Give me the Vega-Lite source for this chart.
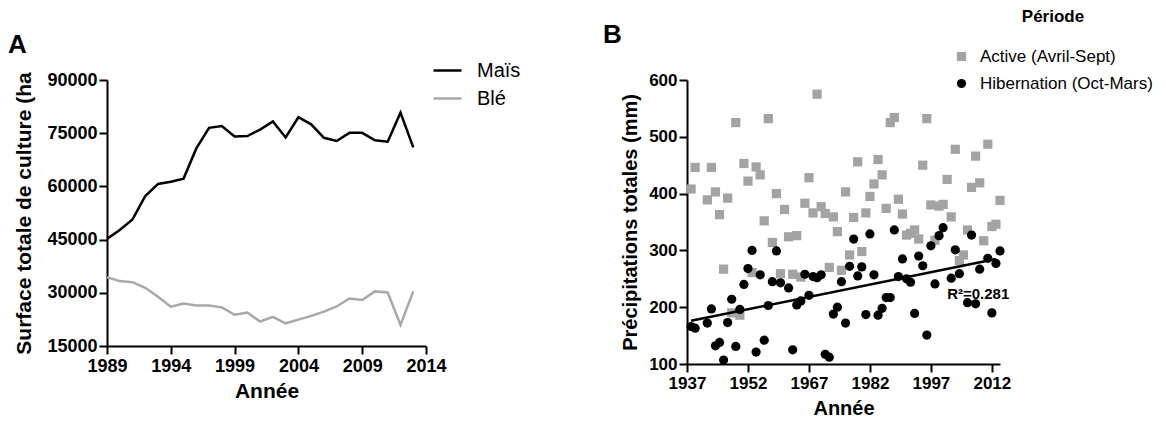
{
  "$schema": "https://vega.github.io/schema/vega-lite/v6.json",
  "autosize": {"type": "none"},
  "padding": {"left": 107, "top": 80, "right": 1059, "bottom": 341},
  "background": "white",
  "spacing": 261,
  "bounds": "flush",
  "resolve": {"scale": {"color": "independent", "shape": "independent"}, "legend": {"color": "independent", "shape": "independent"}},
  "config": {
    "font": "Liberation Sans",
    "view": {"stroke": null},
    "axis": {
      "domainColor": "black", "domainWidth": 2, "tickColor": "black", "tickWidth": 2, "tickSize": 8,
      "grid": false, "labelColor": "black", "labelFont": "Liberation Sans", "labelFontWeight": "bold",
      "titleFont": "Liberation Sans", "titleFontWeight": "bold", "titleColor": "black", "labelFlush": false,
      "labelOverlap": false
    },
    "legend": {"labelFont": "Liberation Sans", "titleFont": "Liberation Sans", "labelColor": "black", "titleColor": "black", "padding": 0, "labelLimit": 400},
    "title": {"font": "Liberation Sans", "color": "black", "fontWeight": "bold"}
  },
  "hconcat": [
    {
      "width": 319,
      "height": 266,
      "title": {"text": "A", "anchor": "start", "frame": "group", "fontSize": 26, "dx": -99, "offset": -3},
      "data": {"values": [
        {"Annee": 1989, "Culture": "Maïs", "Surface": 45200}, {"Annee": 1990, "Culture": "Maïs", "Surface": 47700},
        {"Annee": 1991, "Culture": "Maïs", "Surface": 50700}, {"Annee": 1992, "Culture": "Maïs", "Surface": 57300},
        {"Annee": 1993, "Culture": "Maïs", "Surface": 60700}, {"Annee": 1994, "Culture": "Maïs", "Surface": 61300},
        {"Annee": 1995, "Culture": "Maïs", "Surface": 62200}, {"Annee": 1996, "Culture": "Maïs", "Surface": 70700},
        {"Annee": 1997, "Culture": "Maïs", "Surface": 76500}, {"Annee": 1998, "Culture": "Maïs", "Surface": 77000},
        {"Annee": 1999, "Culture": "Maïs", "Surface": 74100}, {"Annee": 2000, "Culture": "Maïs", "Surface": 74200},
        {"Annee": 2001, "Culture": "Maïs", "Surface": 76000}, {"Annee": 2002, "Culture": "Maïs", "Surface": 78300},
        {"Annee": 2003, "Culture": "Maïs", "Surface": 73800}, {"Annee": 2004, "Culture": "Maïs", "Surface": 79500},
        {"Annee": 2005, "Culture": "Maïs", "Surface": 77500}, {"Annee": 2006, "Culture": "Maïs", "Surface": 73700},
        {"Annee": 2007, "Culture": "Maïs", "Surface": 72800}, {"Annee": 2008, "Culture": "Maïs", "Surface": 75100},
        {"Annee": 2009, "Culture": "Maïs", "Surface": 75100}, {"Annee": 2010, "Culture": "Maïs", "Surface": 73000},
        {"Annee": 2011, "Culture": "Maïs", "Surface": 72600}, {"Annee": 2012, "Culture": "Maïs", "Surface": 80800},
        {"Annee": 2013, "Culture": "Maïs", "Surface": 71000},
        {"Annee": 1989, "Culture": "Blé", "Surface": 34400}, {"Annee": 1990, "Culture": "Blé", "Surface": 33300},
        {"Annee": 1991, "Culture": "Blé", "Surface": 33000}, {"Annee": 1992, "Culture": "Blé", "Surface": 31400},
        {"Annee": 1993, "Culture": "Blé", "Surface": 28900}, {"Annee": 1994, "Culture": "Blé", "Surface": 26100},
        {"Annee": 1995, "Culture": "Blé", "Surface": 27000}, {"Annee": 1996, "Culture": "Blé", "Surface": 26400},
        {"Annee": 1997, "Culture": "Blé", "Surface": 26450}, {"Annee": 1998, "Culture": "Blé", "Surface": 25900},
        {"Annee": 1999, "Culture": "Blé", "Surface": 23800}, {"Annee": 2000, "Culture": "Blé", "Surface": 24450},
        {"Annee": 2001, "Culture": "Blé", "Surface": 21900}, {"Annee": 2002, "Culture": "Blé", "Surface": 23200},
        {"Annee": 2003, "Culture": "Blé", "Surface": 21400}, {"Annee": 2004, "Culture": "Blé", "Surface": 22450},
        {"Annee": 2005, "Culture": "Blé", "Surface": 23500}, {"Annee": 2006, "Culture": "Blé", "Surface": 24700},
        {"Annee": 2007, "Culture": "Blé", "Surface": 26150}, {"Annee": 2008, "Culture": "Blé", "Surface": 28400},
        {"Annee": 2009, "Culture": "Blé", "Surface": 27950}, {"Annee": 2010, "Culture": "Blé", "Surface": 30400},
        {"Annee": 2011, "Culture": "Blé", "Surface": 30100}, {"Annee": 2012, "Culture": "Blé", "Surface": 20950},
        {"Annee": 2013, "Culture": "Blé", "Surface": 30400}
      ]},
      "mark": {"type": "line", "strokeWidth": 2.5},
      "encoding": {
        "x": {"field": "Annee", "type": "quantitative",
          "scale": {"domain": [1989, 2014], "nice": false, "zero": false},
          "axis": {"values": [1989, 1994, 1999, 2004, 2009, 2014], "format": "d", "title": "Année",
            "labelFontSize": 18, "titleFontSize": 21, "labelPadding": 3, "titlePadding": 5}},
        "y": {"field": "Surface", "type": "quantitative",
          "scale": {"domain": [15000, 90000], "nice": false, "zero": false},
          "axis": {"values": [15000, 30000, 45000, 60000, 75000, 90000], "format": "d",
            "title": "Surface totale de culture (ha", "labelFontSize": 18, "titleFontSize": 21, "labelPadding": 2, "titlePadding": 12}},
        "color": {"field": "Culture", "type": "nominal",
          "scale": {"domain": ["Maïs", "Blé"], "range": ["#000000", "#a8a8a8"]},
          "legend": {"title": null, "orient": "none", "legendX": 325, "legendY": -25,
            "symbolType": "stroke", "symbolSize": 784, "symbolStrokeWidth": 2.5,
            "labelFontSize": 20, "labelOffset": 14, "rowPadding": 2}}
      }
    },
    {
      "width": 313,
      "height": 284,
      "title": {"text": "B", "anchor": "start", "frame": "group", "fontSize": 26, "dx": -84, "offset": -39},
      "layer": [
        {
          "data": {"values": [
            {"Annee": 1938, "Periode": "Active (Avril-Sept)", "Precip": 408}, {"Annee": 1939, "Periode": "Active (Avril-Sept)", "Precip": 446},
            {"Annee": 1942, "Periode": "Active (Avril-Sept)", "Precip": 389}, {"Annee": 1943, "Periode": "Active (Avril-Sept)", "Precip": 446},
            {"Annee": 1944, "Periode": "Active (Avril-Sept)", "Precip": 403}, {"Annee": 1945, "Periode": "Active (Avril-Sept)", "Precip": 363},
            {"Annee": 1946, "Periode": "Active (Avril-Sept)", "Precip": 267}, {"Annee": 1947, "Periode": "Active (Avril-Sept)", "Precip": 392},
            {"Annee": 1948, "Periode": "Active (Avril-Sept)", "Precip": 190}, {"Annee": 1949, "Periode": "Active (Avril-Sept)", "Precip": 525},
            {"Annee": 1950, "Periode": "Active (Avril-Sept)", "Precip": 186}, {"Annee": 1951, "Periode": "Active (Avril-Sept)", "Precip": 453},
            {"Annee": 1952, "Periode": "Active (Avril-Sept)", "Precip": 422}, {"Annee": 1953, "Periode": "Active (Avril-Sept)", "Precip": 261},
            {"Annee": 1954, "Periode": "Active (Avril-Sept)", "Precip": 447}, {"Annee": 1955, "Periode": "Active (Avril-Sept)", "Precip": 433},
            {"Annee": 1956, "Periode": "Active (Avril-Sept)", "Precip": 352}, {"Annee": 1957, "Periode": "Active (Avril-Sept)", "Precip": 532},
            {"Annee": 1958, "Periode": "Active (Avril-Sept)", "Precip": 314}, {"Annee": 1959, "Periode": "Active (Avril-Sept)", "Precip": 400},
            {"Annee": 1960, "Periode": "Active (Avril-Sept)", "Precip": 259}, {"Annee": 1961, "Periode": "Active (Avril-Sept)", "Precip": 372},
            {"Annee": 1962, "Periode": "Active (Avril-Sept)", "Precip": 324}, {"Annee": 1963, "Periode": "Active (Avril-Sept)", "Precip": 258},
            {"Annee": 1964, "Periode": "Active (Avril-Sept)", "Precip": 326}, {"Annee": 1965, "Periode": "Active (Avril-Sept)", "Precip": 253},
            {"Annee": 1966, "Periode": "Active (Avril-Sept)", "Precip": 383}, {"Annee": 1967, "Periode": "Active (Avril-Sept)", "Precip": 428},
            {"Annee": 1968, "Periode": "Active (Avril-Sept)", "Precip": 366}, {"Annee": 1969, "Periode": "Active (Avril-Sept)", "Precip": 575},
            {"Annee": 1970, "Periode": "Active (Avril-Sept)", "Precip": 377}, {"Annee": 1971, "Periode": "Active (Avril-Sept)", "Precip": 365},
            {"Annee": 1972, "Periode": "Active (Avril-Sept)", "Precip": 270}, {"Annee": 1973, "Periode": "Active (Avril-Sept)", "Precip": 359},
            {"Annee": 1974, "Periode": "Active (Avril-Sept)", "Precip": 333}, {"Annee": 1975, "Periode": "Active (Avril-Sept)", "Precip": 265},
            {"Annee": 1976, "Periode": "Active (Avril-Sept)", "Precip": 403}, {"Annee": 1977, "Periode": "Active (Avril-Sept)", "Precip": 292},
            {"Annee": 1978, "Periode": "Active (Avril-Sept)", "Precip": 358}, {"Annee": 1979, "Periode": "Active (Avril-Sept)", "Precip": 456},
            {"Annee": 1980, "Periode": "Active (Avril-Sept)", "Precip": 298}, {"Annee": 1981, "Periode": "Active (Avril-Sept)", "Precip": 366},
            {"Annee": 1982, "Periode": "Active (Avril-Sept)", "Precip": 395}, {"Annee": 1983, "Periode": "Active (Avril-Sept)", "Precip": 417},
            {"Annee": 1984, "Periode": "Active (Avril-Sept)", "Precip": 460}, {"Annee": 1985, "Periode": "Active (Avril-Sept)", "Precip": 433},
            {"Annee": 1986, "Periode": "Active (Avril-Sept)", "Precip": 374}, {"Annee": 1987, "Periode": "Active (Avril-Sept)", "Precip": 525},
            {"Annee": 1988, "Periode": "Active (Avril-Sept)", "Precip": 534}, {"Annee": 1989, "Periode": "Active (Avril-Sept)", "Precip": 390},
            {"Annee": 1990, "Periode": "Active (Avril-Sept)", "Precip": 364}, {"Annee": 1991, "Periode": "Active (Avril-Sept)", "Precip": 327},
            {"Annee": 1992, "Periode": "Active (Avril-Sept)", "Precip": 330}, {"Annee": 1993, "Periode": "Active (Avril-Sept)", "Precip": 336},
            {"Annee": 1994, "Periode": "Active (Avril-Sept)", "Precip": 320}, {"Annee": 1995, "Periode": "Active (Avril-Sept)", "Precip": 450},
            {"Annee": 1996, "Periode": "Active (Avril-Sept)", "Precip": 532}, {"Annee": 1997, "Periode": "Active (Avril-Sept)", "Precip": 380},
            {"Annee": 1998, "Periode": "Active (Avril-Sept)", "Precip": 318}, {"Annee": 1999, "Periode": "Active (Avril-Sept)", "Precip": 378},
            {"Annee": 2000, "Periode": "Active (Avril-Sept)", "Precip": 381}, {"Annee": 2001, "Periode": "Active (Avril-Sept)", "Precip": 425},
            {"Annee": 2002, "Periode": "Active (Avril-Sept)", "Precip": 359}, {"Annee": 2003, "Periode": "Active (Avril-Sept)", "Precip": 478},
            {"Annee": 2004, "Periode": "Active (Avril-Sept)", "Precip": 282}, {"Annee": 2005, "Periode": "Active (Avril-Sept)", "Precip": 292},
            {"Annee": 2006, "Periode": "Active (Avril-Sept)", "Precip": 336}, {"Annee": 2007, "Periode": "Active (Avril-Sept)", "Precip": 411},
            {"Annee": 2008, "Periode": "Active (Avril-Sept)", "Precip": 466}, {"Annee": 2009, "Periode": "Active (Avril-Sept)", "Precip": 419},
            {"Annee": 2010, "Periode": "Active (Avril-Sept)", "Precip": 317}, {"Annee": 2011, "Periode": "Active (Avril-Sept)", "Precip": 487},
            {"Annee": 2012, "Periode": "Active (Avril-Sept)", "Precip": 342}, {"Annee": 2013, "Periode": "Active (Avril-Sept)", "Precip": 346},
            {"Annee": 2014, "Periode": "Active (Avril-Sept)", "Precip": 388},
            {"Annee": 1938, "Periode": "Hibernation (Oct-Mars)", "Precip": 166}, {"Annee": 1939, "Periode": "Hibernation (Oct-Mars)", "Precip": 163},
            {"Annee": 1942, "Periode": "Hibernation (Oct-Mars)", "Precip": 172}, {"Annee": 1943, "Periode": "Hibernation (Oct-Mars)", "Precip": 197},
            {"Annee": 1944, "Periode": "Hibernation (Oct-Mars)", "Precip": 132}, {"Annee": 1945, "Periode": "Hibernation (Oct-Mars)", "Precip": 138},
            {"Annee": 1946, "Periode": "Hibernation (Oct-Mars)", "Precip": 107}, {"Annee": 1947, "Periode": "Hibernation (Oct-Mars)", "Precip": 173},
            {"Annee": 1948, "Periode": "Hibernation (Oct-Mars)", "Precip": 214}, {"Annee": 1949, "Periode": "Hibernation (Oct-Mars)", "Precip": 131},
            {"Annee": 1950, "Periode": "Hibernation (Oct-Mars)", "Precip": 196}, {"Annee": 1951, "Periode": "Hibernation (Oct-Mars)", "Precip": 240},
            {"Annee": 1952, "Periode": "Hibernation (Oct-Mars)", "Precip": 268}, {"Annee": 1953, "Periode": "Hibernation (Oct-Mars)", "Precip": 300},
            {"Annee": 1954, "Periode": "Hibernation (Oct-Mars)", "Precip": 121}, {"Annee": 1955, "Periode": "Hibernation (Oct-Mars)", "Precip": 257},
            {"Annee": 1956, "Periode": "Hibernation (Oct-Mars)", "Precip": 142}, {"Annee": 1957, "Periode": "Hibernation (Oct-Mars)", "Precip": 203},
            {"Annee": 1958, "Periode": "Hibernation (Oct-Mars)", "Precip": 245}, {"Annee": 1959, "Periode": "Hibernation (Oct-Mars)", "Precip": 299},
            {"Annee": 1960, "Periode": "Hibernation (Oct-Mars)", "Precip": 243}, {"Annee": 1962, "Periode": "Hibernation (Oct-Mars)", "Precip": 234},
            {"Annee": 1963, "Periode": "Hibernation (Oct-Mars)", "Precip": 125}, {"Annee": 1964, "Periode": "Hibernation (Oct-Mars)", "Precip": 204},
            {"Annee": 1965, "Periode": "Hibernation (Oct-Mars)", "Precip": 211}, {"Annee": 1966, "Periode": "Hibernation (Oct-Mars)", "Precip": 258},
            {"Annee": 1967, "Periode": "Hibernation (Oct-Mars)", "Precip": 221}, {"Annee": 1968, "Periode": "Hibernation (Oct-Mars)", "Precip": 254},
            {"Annee": 1969, "Periode": "Hibernation (Oct-Mars)", "Precip": 252}, {"Annee": 1970, "Periode": "Hibernation (Oct-Mars)", "Precip": 257},
            {"Annee": 1971, "Periode": "Hibernation (Oct-Mars)", "Precip": 117}, {"Annee": 1972, "Periode": "Hibernation (Oct-Mars)", "Precip": 112},
            {"Annee": 1973, "Periode": "Hibernation (Oct-Mars)", "Precip": 188}, {"Annee": 1974, "Periode": "Hibernation (Oct-Mars)", "Precip": 200},
            {"Annee": 1975, "Periode": "Hibernation (Oct-Mars)", "Precip": 245}, {"Annee": 1976, "Periode": "Hibernation (Oct-Mars)", "Precip": 172},
            {"Annee": 1977, "Periode": "Hibernation (Oct-Mars)", "Precip": 272}, {"Annee": 1978, "Periode": "Hibernation (Oct-Mars)", "Precip": 320},
            {"Annee": 1979, "Periode": "Hibernation (Oct-Mars)", "Precip": 255}, {"Annee": 1980, "Periode": "Hibernation (Oct-Mars)", "Precip": 271},
            {"Annee": 1981, "Periode": "Hibernation (Oct-Mars)", "Precip": 187}, {"Annee": 1982, "Periode": "Hibernation (Oct-Mars)", "Precip": 329},
            {"Annee": 1983, "Periode": "Hibernation (Oct-Mars)", "Precip": 257}, {"Annee": 1984, "Periode": "Hibernation (Oct-Mars)", "Precip": 186},
            {"Annee": 1985, "Periode": "Hibernation (Oct-Mars)", "Precip": 198}, {"Annee": 1986, "Periode": "Hibernation (Oct-Mars)", "Precip": 217},
            {"Annee": 1987, "Periode": "Hibernation (Oct-Mars)", "Precip": 217}, {"Annee": 1988, "Periode": "Hibernation (Oct-Mars)", "Precip": 336},
            {"Annee": 1989, "Periode": "Hibernation (Oct-Mars)", "Precip": 254}, {"Annee": 1990, "Periode": "Hibernation (Oct-Mars)", "Precip": 285},
            {"Annee": 1991, "Periode": "Hibernation (Oct-Mars)", "Precip": 250}, {"Annee": 1992, "Periode": "Hibernation (Oct-Mars)", "Precip": 244},
            {"Annee": 1993, "Periode": "Hibernation (Oct-Mars)", "Precip": 189}, {"Annee": 1994, "Periode": "Hibernation (Oct-Mars)", "Precip": 290},
            {"Annee": 1995, "Periode": "Hibernation (Oct-Mars)", "Precip": 273}, {"Annee": 1996, "Periode": "Hibernation (Oct-Mars)", "Precip": 151},
            {"Annee": 1997, "Periode": "Hibernation (Oct-Mars)", "Precip": 308}, {"Annee": 1998, "Periode": "Hibernation (Oct-Mars)", "Precip": 241},
            {"Annee": 1999, "Periode": "Hibernation (Oct-Mars)", "Precip": 326}, {"Annee": 2000, "Periode": "Hibernation (Oct-Mars)", "Precip": 340},
            {"Annee": 2002, "Periode": "Hibernation (Oct-Mars)", "Precip": 251}, {"Annee": 2003, "Periode": "Hibernation (Oct-Mars)", "Precip": 301},
            {"Annee": 2004, "Periode": "Hibernation (Oct-Mars)", "Precip": 259}, {"Annee": 2006, "Periode": "Hibernation (Oct-Mars)", "Precip": 208},
            {"Annee": 2007, "Periode": "Hibernation (Oct-Mars)", "Precip": 327}, {"Annee": 2008, "Periode": "Hibernation (Oct-Mars)", "Precip": 206},
            {"Annee": 2009, "Periode": "Hibernation (Oct-Mars)", "Precip": 267}, {"Annee": 2011, "Periode": "Hibernation (Oct-Mars)", "Precip": 286},
            {"Annee": 2012, "Periode": "Hibernation (Oct-Mars)", "Precip": 190}, {"Annee": 2013, "Periode": "Hibernation (Oct-Mars)", "Precip": 277},
            {"Annee": 2014, "Periode": "Hibernation (Oct-Mars)", "Precip": 299}
          ]},
          "mark": {"type": "point", "filled": true, "size": 85, "opacity": 1},
          "encoding": {
            "x": {"field": "Annee", "type": "quantitative",
              "scale": {"domain": [1937, 2014], "nice": false, "zero": false},
              "axis": {"values": [1937, 1952, 1967, 1982, 1997, 2012], "format": "d", "title": "Année",
                "labelFontSize": 17, "titleFontSize": 20, "labelPadding": 3, "titlePadding": 7}},
            "y": {"field": "Precip", "type": "quantitative",
              "scale": {"domain": [100, 600], "nice": false, "zero": false},
              "axis": {"values": [100, 200, 300, 400, 500, 600], "format": "d", "title": "Précipitations totales (mm)",
                "labelFontSize": 17, "titleFontSize": 20, "labelPadding": 2, "titlePadding": 8}},
            "color": {"field": "Periode", "type": "nominal",
              "scale": {"domain": ["Active (Avril-Sept)", "Hibernation (Oct-Mars)"], "range": ["#a3a3a3", "#000000"]},
              "legend": {"title": "Période", "orient": "none", "legendX": 266, "legendY": -71,
                "titleFontSize": 17, "titleFontWeight": "bold", "titleAnchor": "middle", "titleAlign": "center", "titlePadding": 22,
                "labelFontSize": 17, "labelOffset": 10, "rowPadding": 9, "symbolSize": 85, "labelLimit": 400}},
            "shape": {"field": "Periode", "type": "nominal",
              "scale": {"domain": ["Active (Avril-Sept)", "Hibernation (Oct-Mars)"], "range": ["square", "circle"]},
              "legend": {"title": "Période", "orient": "none", "legendX": 266, "legendY": -71,
                "titleFontSize": 17, "titleFontWeight": "bold", "titleAnchor": "middle", "titleAlign": "center", "titlePadding": 22,
                "labelFontSize": 17, "labelOffset": 10, "rowPadding": 9, "symbolSize": 85, "labelLimit": 400}}
          }
        },
        {
          "data": {"values": [{"Annee": 1938, "Fit": 176}, {"Annee": 2013, "Fit": 285}]},
          "mark": {"type": "line", "color": "black", "strokeWidth": 2.5},
          "encoding": {
            "x": {"field": "Annee", "type": "quantitative"},
            "y": {"field": "Fit", "type": "quantitative"}
          }
        },
        {
          "data": {"values": [{"Annee": 2001, "Precip": 224, "Label": "R²=0.281"}]},
          "mark": {"type": "text", "align": "left", "baseline": "middle", "fontSize": 15, "fontWeight": "bold", "color": "black", "font": "Liberation Sans"},
          "encoding": {
            "x": {"field": "Annee", "type": "quantitative"},
            "y": {"field": "Precip", "type": "quantitative"},
            "text": {"field": "Label"}
          }
        }
      ]
    }
  ]
}
